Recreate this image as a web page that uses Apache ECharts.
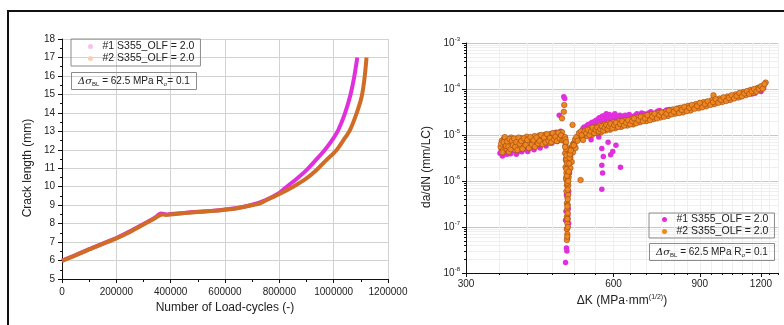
<!DOCTYPE html>
<html>
<head>
<meta charset="utf-8">
<script src="https://cdn.jsdelivr.net/npm/echarts@6/dist/echarts.min.js"></script>
<style>
  html, body { margin: 0; padding: 0; background: #fff; }
  #chart { width: 784px; height: 325px; }
</style>
</head>
<body>
<div id="chart"></div>
<script>
const seriesNames = ['#1 S355_OLF = 2.0', '#2 S355_OLF = 2.0'];

// left plot: crack length (mm) vs number of load-cycles
const crackS1 = [
  [0, 6.0], [50000, 6.3], [100000, 6.62], [150000, 6.92], [200000, 7.22], [250000, 7.58],
  [300000, 7.98], [340000, 8.3], [365000, 8.55], [385000, 8.5], [400000, 8.52], [450000, 8.58],
  [500000, 8.64], [550000, 8.69], [600000, 8.76], [650000, 8.86], [700000, 9.02], [750000, 9.28],
  [800000, 9.66], [827000, 10.0], [860000, 10.38], [900000, 10.9], [935000, 11.45], [968000, 12.0],
  [1000000, 12.65], [1017000, 13.07], [1040000, 13.9], [1060000, 14.87], [1075000, 15.9], [1087000, 17.0]
];
const crackS2 = [
  [0, 5.98], [50000, 6.28], [100000, 6.6], [150000, 6.9], [200000, 7.2], [250000, 7.55],
  [300000, 7.95], [340000, 8.28], [370000, 8.5], [382000, 8.47], [400000, 8.5], [450000, 8.57],
  [500000, 8.63], [550000, 8.68], [600000, 8.75], [650000, 8.85], [700000, 9.0], [729000, 9.1],
  [750000, 9.25], [800000, 9.6], [851000, 10.0], [900000, 10.45], [937000, 10.9], [970000, 11.4],
  [1011000, 11.99], [1035000, 12.5], [1060000, 13.07], [1085000, 14.0], [1103000, 14.87],
  [1113000, 15.8], [1121000, 17.0]
];

// right plot: da/dN (mm/LC) vs ΔK
const rateS1 = [
  // band before the overload
  [352, 4.0e-6], [356, 3.5e-6], [360, 5.2e-6], [364, 3.8e-6], [368, 6.5e-6], [372, 4.4e-6],
  [377, 5.6e-6], [382, 4.2e-6], [387, 7.0e-6], [392, 4.9e-6], [398, 6.1e-6], [404, 5.1e-6],
  [410, 7.4e-6], [416, 5.6e-6], [422, 8.0e-6], [428, 6.2e-6], [434, 9.6e-6], [440, 7.0e-6],
  [446, 1.05e-5], [452, 7.8e-6], [458, 1.15e-5], [464, 9.0e-6], [468, 1.2e-5],
  [354, 4.6e-6], [358, 3.7e-6], [362, 4.4e-6], [366, 5.5e-6], [370, 3.9e-6], [375, 4.7e-6],
  [380, 3.8e-6], [385, 5.3e-6], [390, 4.3e-6], [395, 5.0e-6], [401, 4.4e-6], [407, 6.0e-6],
  [413, 4.8e-6], [419, 6.6e-6], [425, 5.2e-6], [431, 7.2e-6], [437, 5.8e-6], [443, 8.3e-6],
  [449, 6.6e-6], [455, 9.0e-6], [461, 7.2e-6],
  // overload spike and retardation dip
  [465, 2.7e-5], [475, 6.8e-5], [477, 6.2e-5],
  [478, 8e-6], [479, 3e-6], [480, 1.2e-6], [481, 5e-7], [480, 2.2e-7], [479, 1.4e-7],
  [482, 9e-8], [483, 5.6e-8], [481, 3.5e-8], [482, 3.0e-8], [479, 1.7e-8], [484, 1.0e-7],
  [485, 2.5e-7], [486, 6e-7], [488, 1.5e-6], [490, 2.5e-6], [493, 4e-6], [484, 1.8e-7], [486, 1.2e-7],
  [495, 5e-6], [500, 6e-6], [505, 8e-6], [510, 9e-6],
  // band after the overload
  [515, 1.1e-5], [520, 1.4e-5], [525, 1.2e-5], [530, 1.6e-5], [535, 1.3e-5], [540, 1.8e-5],
  [545, 1.5e-5], [550, 2.0e-5], [555, 1.7e-5], [560, 2.3e-5], [565, 1.9e-5], [570, 2.6e-5],
  [575, 2.1e-5], [580, 2.9e-5], [585, 2.2e-5], [590, 2.5e-5], [595, 2.0e-5], [600, 2.7e-5],
  [608, 2.3e-5], [615, 2.5e-5], [622, 2.1e-5], [630, 2.6e-5], [638, 2.4e-5], [646, 2.8e-5],
  [655, 2.5e-5], [665, 2.7e-5], [675, 2.6e-5], [685, 3.0e-5], [700, 2.8e-5], [715, 3.2e-5],
  [730, 3.0e-5], [745, 3.4e-5], [760, 3.2e-5], [780, 3.6e-5], [800, 3.4e-5], [820, 3.9e-5],
  [840, 3.6e-5], [860, 4.2e-5], [880, 4.0e-5], [900, 4.6e-5], [925, 4.4e-5], [950, 5.2e-5],
  [975, 5.0e-5], [1000, 6.0e-5], [1030, 5.8e-5], [1060, 7.0e-5], [1090, 6.8e-5], [1120, 8.2e-5],
  [1150, 7.8e-5], [1167, 8.1e-5], [1180, 9.5e-5], [1200, 8.8e-5], [1215, 1.05e-4],
  [518, 1.25e-5], [523, 1.5e-5], [528, 1.35e-5], [533, 1.7e-5], [538, 1.45e-5], [543, 1.9e-5],
  [548, 1.6e-5], [553, 2.1e-5], [558, 1.8e-5], [563, 2.4e-5], [568, 2.0e-5], [573, 2.3e-5],
  [578, 2.7e-5], [583, 2.4e-5], [588, 2.8e-5], [593, 2.3e-5], [598, 2.5e-5], [604, 2.9e-5],
  [611, 2.2e-5], [618, 2.7e-5], [626, 2.3e-5], [634, 2.7e-5], [642, 2.2e-5], [650, 2.6e-5],
  [660, 2.4e-5], [670, 2.9e-5], [680, 2.5e-5], [692, 2.9e-5], [708, 3.0e-5], [722, 2.9e-5],
  [738, 3.3e-5], [753, 3.0e-5], [770, 3.5e-5], [790, 3.3e-5], [810, 3.8e-5], [830, 3.5e-5],
  [850, 4.1e-5], [870, 3.9e-5], [890, 4.5e-5], [912, 4.3e-5], [937, 5.0e-5], [962, 4.8e-5],
  [988, 5.6e-5], [1015, 5.7e-5], [1045, 6.6e-5], [1075, 7.2e-5], [1105, 7.8e-5], [1135, 8.6e-5],
  [1165, 9.0e-5], [1195, 1.0e-4],
  // scattered low points
  [540, 7.9e-6], [568, 5.1e-6], [572, 3.4e-6], [568, 2.2e-6], [570, 1.5e-6], [568, 6.6e-7],
  [592, 3.7e-6], [598, 4.4e-6], [607, 6e-6], [620, 2.0e-6], [560, 9e-6], [585, 7e-6]
];
const rateS2 = [
  // band before the overload
  [353, 5.5e-6], [355, 7.5e-6], [357, 4.6e-6], [359, 8.5e-6], [361, 6.2e-6], [363, 5.0e-6],
  [365, 7.8e-6], [367, 4.3e-6], [369, 6.8e-6], [371, 8.8e-6], [373, 5.4e-6], [375, 6.4e-6],
  [377, 4.8e-6], [379, 8.0e-6], [381, 6.0e-6], [383, 7.2e-6], [385, 5.1e-6], [388, 8.6e-6],
  [390, 6.5e-6], [393, 5.6e-6], [396, 7.6e-6], [399, 9.2e-6], [402, 6.3e-6], [405, 5.4e-6],
  [408, 8.2e-6], [411, 6.9e-6], [414, 9.5e-6], [417, 6.0e-6], [420, 7.7e-6], [423, 9.8e-6],
  [426, 6.6e-6], [429, 8.5e-6], [432, 7.2e-6], [435, 1.02e-5], [438, 7.9e-6], [441, 9.0e-6],
  [444, 6.8e-6], [447, 1.05e-5], [450, 8.4e-6], [453, 9.6e-6], [456, 7.6e-6], [459, 1.1e-5],
  [462, 8.8e-6], [465, 1.0e-5], [468, 8.0e-6], [471, 1.15e-5], [473, 9.0e-6],
  [354, 6.5e-6], [356, 4.2e-6], [358, 7.0e-6], [360, 9.0e-6], [362, 5.8e-6], [364, 7.2e-6],
  [366, 5.6e-6], [368, 8.2e-6], [370, 4.9e-6], [372, 7.4e-6], [374, 6.0e-6], [376, 8.4e-6],
  [378, 5.5e-6], [380, 7.0e-6], [382, 4.7e-6], [384, 8.8e-6], [386, 6.4e-6], [389, 7.4e-6],
  [391, 5.0e-6], [394, 8.5e-6], [397, 6.1e-6], [400, 7.8e-6], [403, 5.2e-6], [406, 9.0e-6],
  [409, 6.2e-6], [412, 7.7e-6], [415, 5.5e-6], [418, 8.8e-6], [421, 6.5e-6], [424, 7.4e-6],
  [427, 1.0e-5], [430, 6.3e-6], [433, 8.8e-6], [436, 6.9e-6], [439, 1.05e-5], [442, 7.5e-6],
  [445, 8.6e-6], [448, 7.0e-6], [451, 1.1e-5], [454, 8.0e-6], [457, 9.2e-6], [460, 7.4e-6],
  [463, 1.12e-5], [466, 8.4e-6], [469, 9.8e-6], [472, 7.6e-6],
  // overload spike and retardation dip
  [476, 4.5e-5], [475, 3.2e-5], [471, 2.3e-5], [495, 1.66e-5], [514, 1.05e-6], [475, 7.9e-6],
  [478, 9e-6], [479, 6e-6], [478, 4e-6], [480, 2.8e-6], [479, 2e-6], [481, 1.5e-6], [480, 1.1e-6],
  [482, 8e-7], [481, 6e-7], [483, 4.5e-7], [482, 3.3e-7], [483, 2.4e-7], [482, 1.7e-7],
  [483, 1.2e-7], [482, 9e-8], [483, 7e-8], [482, 5.2e-8], [484, 1.5e-7], [484, 3e-7], [485, 5e-7],
  [485, 8e-7], [486, 1.2e-6], [487, 1.8e-6], [488, 2.5e-6], [490, 3.2e-6], [492, 4.2e-6],
  [484, 2e-6], [486, 3e-6], [488, 4e-6], [481, 3e-6], [483, 1e-6], [485, 1.4e-6], [489, 5e-6],
  [494, 5.5e-6], [497, 6.5e-6], [500, 7e-6], [503, 7.8e-6], [506, 8.5e-6], [509, 9.5e-6],
  [512, 1.0e-5], [486, 2.2e-6], [490, 1.9e-6], [496, 4.2e-6], [502, 5.2e-6], [493, 2.6e-6],
  [479, 8e-6], [480, 5e-6], [481, 3.6e-6], [482, 2.4e-6], [481, 1.8e-6], [482, 1.3e-6],
  [483, 9e-7], [484, 6.5e-7], [484, 4e-7], [483, 2.8e-7], [484, 2e-7], [483, 1.5e-7],
  [484, 1e-7], [483, 6.2e-8], [485, 1e-6], [486, 1.6e-6], [487, 2.4e-6], [488, 3.2e-6],
  [489, 3.8e-6], [491, 4.6e-6], [495, 6e-6], [498, 6e-6], [501, 8e-6], [504, 9e-6],
  [507, 7.5e-6], [510, 1.1e-5], [480, 7e-6], [478, 5.5e-6],
  // band after the overload
  [515, 1.2e-5], [518, 8.5e-6], [522, 1.05e-5], [526, 1.3e-5], [530, 9.5e-6], [534, 1.15e-5],
  [538, 1.4e-5], [542, 1.0e-5], [546, 1.25e-5], [550, 1.5e-5], [554, 1.1e-5], [558, 1.3e-5],
  [562, 1.6e-5], [566, 1.15e-5], [570, 1.4e-5], [574, 1.7e-5], [578, 1.25e-5], [582, 1.5e-5],
  [586, 1.8e-5], [590, 1.3e-5], [595, 1.6e-5], [600, 1.9e-5], [605, 1.4e-5], [610, 1.7e-5],
  [616, 2.0e-5], [622, 1.5e-5], [628, 1.8e-5], [634, 2.1e-5], [640, 1.6e-5], [646, 1.9e-5],
  [652, 2.2e-5], [658, 1.7e-5], [665, 2.0e-5], [672, 2.4e-5], [679, 1.9e-5], [686, 2.2e-5],
  [693, 2.6e-5], [700, 2.0e-5], [708, 2.4e-5], [716, 2.8e-5], [724, 2.2e-5], [732, 2.6e-5],
  [740, 3.0e-5], [748, 2.4e-5], [757, 2.8e-5], [766, 3.2e-5], [775, 2.6e-5], [784, 3.1e-5],
  [793, 3.6e-5], [802, 2.9e-5], [812, 3.4e-5], [822, 3.9e-5], [832, 3.1e-5], [842, 3.7e-5],
  [852, 4.3e-5], [862, 3.4e-5], [873, 4.0e-5], [884, 4.7e-5], [895, 3.8e-5], [906, 4.5e-5],
  [917, 5.2e-5], [928, 4.2e-5], [940, 4.9e-5], [952, 5.7e-5], [960, 7.3e-5], [964, 4.7e-5],
  [976, 5.4e-5], [988, 6.2e-5], [1000, 5.2e-5], [1013, 6.0e-5], [1026, 6.9e-5], [1039, 5.8e-5],
  [1052, 6.6e-5], [1065, 7.6e-5], [1078, 6.5e-5], [1091, 7.4e-5], [1104, 8.6e-5], [1117, 7.3e-5],
  [1130, 8.3e-5], [1143, 9.6e-5], [1156, 8.2e-5], [1169, 9.3e-5], [1182, 1.06e-4], [1195, 9.6e-5],
  [1205, 1.1e-4], [1215, 1.2e-4], [1227, 1.38e-4],
  [517, 1.0e-5], [520, 7.8e-6], [524, 1.2e-5], [528, 1.1e-5], [532, 1.3e-5], [536, 1.0e-5],
  [540, 1.2e-5], [544, 1.45e-5], [548, 1.1e-5], [552, 1.3e-5], [556, 1.45e-5], [560, 1.2e-5],
  [564, 1.35e-5], [568, 1.55e-5], [572, 1.25e-5], [576, 1.45e-5], [580, 1.65e-5], [584, 1.35e-5],
  [588, 1.55e-5], [592, 1.75e-5], [597, 1.4e-5], [602, 1.65e-5], [607, 1.85e-5], [613, 1.5e-5],
  [619, 1.75e-5], [625, 2.0e-5], [631, 1.6e-5], [637, 1.85e-5], [643, 2.1e-5], [649, 1.7e-5],
  [655, 2.0e-5], [661, 2.3e-5], [668, 1.8e-5], [675, 2.1e-5], [682, 2.5e-5], [689, 2.0e-5],
  [696, 2.3e-5], [704, 2.7e-5], [712, 2.1e-5], [720, 2.5e-5], [728, 2.9e-5], [736, 2.3e-5],
  [744, 2.7e-5], [752, 3.1e-5], [761, 2.5e-5], [770, 2.9e-5], [779, 3.4e-5], [788, 2.8e-5],
  [797, 3.2e-5], [807, 3.7e-5], [817, 3.0e-5], [827, 3.5e-5], [837, 4.1e-5], [847, 3.3e-5],
  [857, 3.9e-5], [867, 4.5e-5], [878, 3.7e-5], [889, 4.3e-5], [900, 5.0e-5], [911, 4.0e-5],
  [922, 4.7e-5], [934, 5.4e-5], [946, 4.5e-5], [958, 5.2e-5], [970, 6.0e-5], [982, 5.0e-5],
  [994, 5.8e-5], [1006, 6.6e-5], [1019, 5.5e-5], [1032, 6.4e-5], [1045, 7.3e-5], [1058, 6.2e-5],
  [1071, 7.1e-5], [1084, 8.2e-5], [1097, 6.9e-5], [1110, 8.0e-5], [1123, 9.0e-5], [1136, 7.8e-5],
  [1149, 8.9e-5], [1162, 1.0e-4], [1175, 8.8e-5], [1188, 1.0e-4], [1200, 1.15e-4], [1210, 1.02e-4],
  [1220, 1.28e-4]
];

const dkLabels = [300, 600, 900, 1200];
const dkMinorTicks = [300, 350, 400, 450, 500, 550, 600, 650, 700, 750, 800, 850, 900,
  950, 1000, 1050, 1100, 1150, 1200, 1250, 1300];
const rateMinorTicks = [];
for (let e = -8; e < -3; e++) {
  for (let k = 2; k <= 9; k++) rateMinorTicks.push(k * Math.pow(10, e));
}

const FONT = '"Liberation Sans", Arial, sans-serif';
const TXT = '#222';
const MAGENTA = '#e02fdc';
const ORANGE = '#f0861f';

const chart = echarts.init(document.getElementById('chart'));

const boxText = '{g|Δσ}{s|BL}{t| = 62.5 MPa R}{s|σ}{t|= 0.1}';
const boxRich = {
  g: { fontFamily: '"DejaVu Serif", serif', fontStyle: 'italic', fontSize: 10, color: TXT },
  t: { fontFamily: FONT, fontSize: 10, color: TXT },
  s: { fontFamily: FONT, fontSize: 6, color: TXT, padding: [6, 0, 0, 0] }
};

const option = {
  animation: false,
  backgroundColor: '#fff',
  textStyle: { fontFamily: FONT },
  graphic: [{
    type: 'rect',
    silent: true,
    shape: { x: 8, y: 11, width: 800, height: 340 },
    style: { fill: 'none', stroke: '#111', lineWidth: 2 }
  }],
  title: [
    {
      left: 71, top: 71,
      text: boxText,
      borderColor: '#8c8c8c', borderWidth: 1,
      padding: [4, 7, 3, 7],
      textStyle: { fontSize: 10, fontWeight: 'normal', rich: boxRich }
    },
    {
      left: 649, top: 242,
      text: boxText,
      borderColor: '#8c8c8c', borderWidth: 1,
      padding: [4, 7, 3, 7],
      textStyle: { fontSize: 10, fontWeight: 'normal', rich: boxRich }
    }
  ],
  legend: [
    {
      left: 71, top: 39,
      orient: 'vertical',
      borderColor: '#8c8c8c', borderWidth: 1,
      padding: [2, 6, 2, 17],
      itemGap: 1, itemWidth: 14, itemHeight: 5,
      icon: 'circle',
      textStyle: { fontSize: 10.5, color: TXT, fontFamily: FONT },
      data: [
        { name: seriesNames[0], itemStyle: { color: '#f4c4ef' } },
        { name: seriesNames[1], itemStyle: { color: '#f8d0b6' } }
      ]
    },
    {
      left: 649, top: 213,
      orient: 'vertical',
      borderColor: '#8c8c8c', borderWidth: 1,
      padding: [1, 6, 1, 13],
      itemGap: 1, itemWidth: 14, itemHeight: 5,
      icon: 'circle',
      textStyle: { fontSize: 10.5, color: TXT, fontFamily: FONT },
      data: [
        { name: seriesNames[0], itemStyle: { color: MAGENTA } },
        { name: seriesNames[1], itemStyle: { color: ORANGE } }
      ]
    }
  ],
  grid: [
    { left: 62, top: 39, width: 326, height: 240 },
    { left: 466, top: 43, width: 312, height: 230 }
  ],
  xAxis: [
    {
      gridIndex: 0, type: 'value', min: 0, max: 1200000, interval: 200000,
      name: 'Number of Load-cycles (-)', nameLocation: 'middle', nameGap: 19,
      nameTextStyle: { fontSize: 12, color: TXT, fontFamily: FONT },
      axisLine: { show: true, onZero: false, lineStyle: { color: '#111', width: 1 } },
      axisTick: { show: true, length: 4, lineStyle: { color: '#111' } },
      minorTick: { show: true, splitNumber: 2, length: 3, lineStyle: { color: '#111' } },
      axisLabel: { fontSize: 10, color: TXT, margin: 8, fontFamily: FONT, formatter: v => String(v) },
      splitLine: { show: true, lineStyle: { color: '#d2d2d2', width: 1 } }
    },
    {
      gridIndex: 1, type: 'log', logBase: 10, min: 300, max: 1300, position: 'bottom',
      name: 'ΔK (MPa·mm{e|(1/2)})', nameLocation: 'middle', nameGap: 21,
      nameTextStyle: {
        fontSize: 12, color: TXT, fontFamily: FONT,
        rich: { e: { fontSize: 7, color: TXT, fontFamily: FONT, padding: [0, 0, 7, 0] } }
      },
      axisLine: { show: true, onZero: false, lineStyle: { color: '#111', width: 1 } },
      axisTick: { show: true, length: 4, customValues: dkLabels, lineStyle: { color: '#111' } },
      axisLabel: {
        fontSize: 10, color: TXT, margin: 6, fontFamily: FONT,
        customValues: dkLabels, formatter: v => String(Math.round(v))
      },
      splitLine: { show: true, lineStyle: { color: '#c8c8c8', width: 1 } }
    },
    {
      gridIndex: 1, type: 'log', logBase: 10, min: 300, max: 1300, position: 'bottom', offset: 0,
      axisLine: { show: false },
      axisTick: { show: true, length: 2, customValues: dkMinorTicks, lineStyle: { color: '#111' } },
      axisLabel: { show: false },
      splitLine: { show: true, lineStyle: { color: '#efefef', width: 1 } }
    }
  ],
  yAxis: [
    {
      gridIndex: 0, type: 'value', min: 5, max: 18, interval: 1,
      name: 'Crack length (mm)', nameLocation: 'middle', nameGap: 28,
      nameTextStyle: { fontSize: 12, color: TXT, fontFamily: FONT, padding: [0, 18, 0, 0] },
      axisLine: { show: true, onZero: false, lineStyle: { color: '#111', width: 1 } },
      axisTick: { show: true, length: 4, lineStyle: { color: '#111' } },
      minorTick: { show: true, splitNumber: 2, length: 2, lineStyle: { color: '#111' } },
      axisLabel: { fontSize: 10, color: TXT, margin: 7, fontFamily: FONT },
      splitLine: { show: true, lineStyle: { color: '#d2d2d2', width: 1 } }
    },
    {
      gridIndex: 1, type: 'log', logBase: 10, min: 1e-8, max: 1e-3, position: 'left',
      name: 'da/dN (mm/LC)', nameLocation: 'middle', nameGap: 33,
      nameTextStyle: { fontSize: 12, color: TXT, fontFamily: FONT, padding: [0, 18, 0, 0] },
      axisLine: { show: true, onZero: false, lineStyle: { color: '#111', width: 1 } },
      axisTick: { show: true, length: 4, lineStyle: { color: '#111' } },
      axisLabel: {
        margin: 6,
        formatter: v => '{b|10}{e|' + Math.round(Math.log10(v)) + '}',
        rich: {
          b: { fontSize: 10, color: TXT, fontFamily: FONT },
          e: { fontSize: 6, color: TXT, fontFamily: FONT, padding: [0, 0, 7, 0] }
        }
      },
      splitLine: { show: true, lineStyle: { color: '#c8c8c8', width: 1 } }
    },
    {
      gridIndex: 1, type: 'log', logBase: 10, min: 1e-8, max: 1e-3, position: 'left', offset: 0,
      axisLine: { show: false },
      axisTick: { show: true, length: 2, customValues: rateMinorTicks, lineStyle: { color: '#111' } },
      axisLabel: { show: false },
      splitLine: { show: true, lineStyle: { color: '#efefef', width: 1 } }
    }
  ],
  series: [
    {
      name: seriesNames[0], type: 'line', xAxisIndex: 0, yAxisIndex: 0,
      data: crackS1, smooth: 0.3, showSymbol: false,
      lineStyle: { color: MAGENTA, width: 4 }, itemStyle: { color: MAGENTA }, z: 2
    },
    {
      name: seriesNames[1], type: 'line', xAxisIndex: 0, yAxisIndex: 0,
      data: crackS2, smooth: 0.3, showSymbol: false,
      lineStyle: { color: '#d06c26', width: 4 }, itemStyle: { color: ORANGE }, z: 3
    },
    {
      name: seriesNames[0], type: 'scatter', xAxisIndex: 1, yAxisIndex: 1,
      data: rateS1, symbolSize: 5.5,
      itemStyle: { color: MAGENTA, opacity: 1 }, z: 2
    },
    {
      name: seriesNames[1], type: 'scatter', xAxisIndex: 1, yAxisIndex: 1,
      data: rateS2, symbolSize: 5.5,
      itemStyle: { color: ORANGE, borderColor: '#9a4c14', borderWidth: 0.6, opacity: 1 }, z: 3
    }
  ]
};

chart.setOption(option);
window.addEventListener('resize', () => chart.resize());
</script>
</body>
</html>
